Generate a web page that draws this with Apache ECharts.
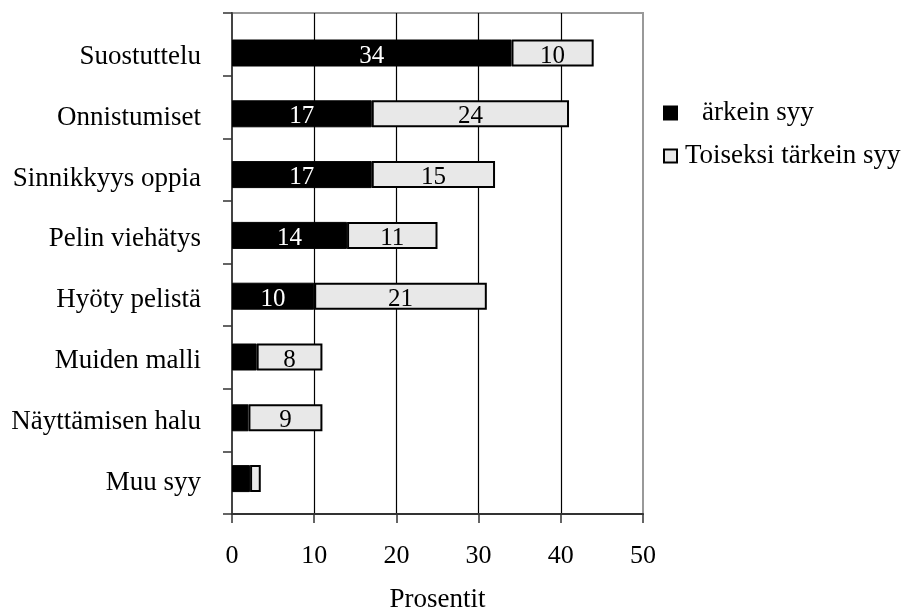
<!DOCTYPE html>
<html>
<head>
<meta charset="utf-8">
<script src="https://cdn.jsdelivr.net/npm/echarts@6/dist/echarts.min.js"></script>
<style>
  html, body { margin: 0; padding: 0; background: #fff; }
  #chart { width: 905px; height: 609px; }
</style>
</head>
<body>
<div id="chart"></div>
<script>
// Reasons, in percent of respondents
const categories = ['Suostuttelu', 'Onnistumiset', 'Sinnikkyys oppia', 'Pelin viehätys',
                    'Hyöty pelistä', 'Muiden malli', 'Näyttämisen halu', 'Muu syy'];
const mostImportant = [34, 17, 17, 14, 10, 3, 2, 2.2];
const secondImportant = [10, 24, 15, 11, 21, 8, 9, 1.3];
const seriesNames = ['ärkein syy', 'Toiseksi tärkein syy'];
const axisMin = 0;
const axisMax = 50;
const axisStep = 10;
const axisTitle = 'Prosentit';

const FONT = '"Liberation Serif", "DejaVu Serif", serif';
const PLOT_LEFT = 232, PLOT_RIGHT = 262;

// values too small to carry a label are left unlabelled
const labelFmt = p => (p.value >= 5 ? String(Math.round(p.value)) : '');

const chart = echarts.init(document.getElementById('chart'), null, { renderer: 'canvas' });
chart.setOption({
  animation: false,
  backgroundColor: '#fff',
  grid: [
    // frame: border, gridlines and ticks
    { left: PLOT_LEFT, right: PLOT_RIGHT, top: 13, bottom: 95, outerBoundsMode: 'none',
      show: true, borderColor: '#999', borderWidth: 2, backgroundColor: 'transparent' },
    // bars
    { left: PLOT_LEFT, right: PLOT_RIGHT, top: 22.6, height: 486.4, outerBoundsMode: 'none' }
  ],
  xAxis: [
    {
      gridIndex: 0, type: 'value', min: axisMin, max: axisMax, interval: axisStep,
      axisLine: { show: true, lineStyle: { color: '#333', width: 2 } },
      axisTick: { show: true, length: 9, lineStyle: { color: '#333', width: 1.5 } },
      splitLine: { show: true, showMinLine: false, showMaxLine: false,
                   lineStyle: { color: '#000', width: 1.2 } },
      axisLabel: { color: '#000', fontFamily: FONT, fontSize: 26, margin: 29 },
      name: axisTitle, nameLocation: 'middle', nameGap: 72,
      nameTextStyle: { color: '#000', fontFamily: FONT, fontSize: 27 }
    },
    { gridIndex: 1, type: 'value', min: axisMin, max: axisMax, show: false }
  ],
  yAxis: [
    {
      gridIndex: 0, type: 'category', inverse: true, data: categories,
      axisLine: { show: true, lineStyle: { color: '#444', width: 2 } },
      axisTick: { show: true, length: 9, interval: 0, lineStyle: { color: '#333', width: 1.5 } },
      axisLabel: { show: false },
      splitLine: { show: false }
    },
    {
      gridIndex: 1, type: 'category', inverse: true, data: categories,
      axisLine: { show: false }, axisTick: { show: false },
      axisLabel: {
        color: '#000', fontFamily: FONT, fontSize: 27, margin: 31,
        formatter: v => '{c|' + v + '}',
        rich: { c: { color: '#000', fontFamily: FONT, fontSize: 27, padding: [8, 0, 0, 0] } }
      }
    }
  ],
  legend: {
    orient: 'vertical', left: 663, top: 98, padding: 0,
    icon: 'rect',
    itemWidth: 13, itemHeight: 13, itemGap: 13,
    data: seriesNames,
    formatter: name => (name === seriesNames[0] ? '{wide|' + name + '}' : '{narrow|' + name + '}'),
    textStyle: {
      color: '#000', fontFamily: FONT, fontSize: 27, lineHeight: 30,
      rich: {
        wide: { fontFamily: FONT, fontSize: 27, color: '#000', padding: [0, 0, 0, 20] },
        narrow: { fontFamily: FONT, fontSize: 27, color: '#000', padding: [0, 0, 0, 3] }
      }
    }
  },
  series: [
    {
      name: seriesNames[0], type: 'bar', stack: 'reasons', xAxisIndex: 1, yAxisIndex: 1,
      data: mostImportant, barWidth: 27,
      itemStyle: { color: '#000', borderColor: '#000', borderWidth: 1 },
      label: { show: true, position: 'inside', color: '#fff', fontFamily: FONT, fontSize: 25,
               offset: [0, 3], formatter: labelFmt }
    },
    {
      name: seriesNames[1], type: 'bar', stack: 'reasons', xAxisIndex: 1, yAxisIndex: 1,
      data: secondImportant, barWidth: 27,
      itemStyle: { color: '#e8e8e8', borderColor: '#000', borderWidth: 2 },
      label: { show: true, position: 'inside', color: '#000', fontFamily: FONT, fontSize: 25,
               offset: [0, 3], formatter: labelFmt }
    }
  ]
});
</script>
</body>
</html>
